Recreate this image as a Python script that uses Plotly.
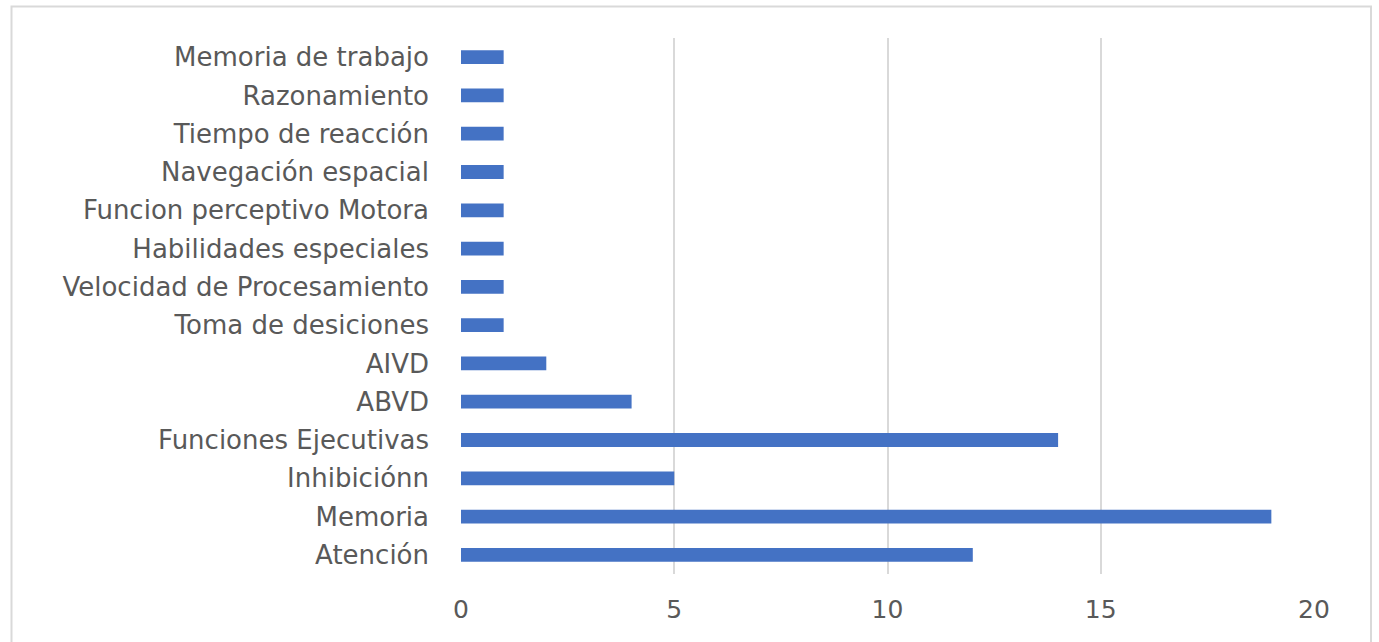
import plotly.graph_objects as go

# Categories listed bottom-to-top as they appear on the axis
categorias = [
    "Atención",
    "Memoria",
    "Inhibiciónn",
    "Funciones Ejecutivas",
    "ABVD",
    "AIVD",
    "Toma de desiciones",
    "Velocidad de Procesamiento",
    "Habilidades especiales",
    "Funcion perceptivo Motora",
    "Navegación espacial",
    "Tiempo de reacción",
    "Razonamiento",
    "Memoria de trabajo",
]
valores = [12, 19, 5, 14, 4, 2, 1, 1, 1, 1, 1, 1, 1, 1]
ticks_x = [0, 5, 10, 15, 20]

W, H = 1379, 642
L, R, T, B = 461, 65, 38, 68
FONT = "DejaVu Sans"
TXT = "#595959"
GRID = "#d9d9d9"

fig = go.Figure(
    go.Bar(
        x=valores,
        y=categorias,
        orientation="h",
        marker=dict(color="#4472C4", line=dict(width=0)),
        hoverinfo="x+y",
    )
)

pw = W - L - R
ph = H - T - B


def px_to_paper_x(p):
    return (p - L) / pw


def px_to_paper_y(p):
    return (H - B - p) / ph


fig.update_layout(
    width=W,
    height=H,
    margin=dict(l=L, r=R, t=T, b=B),
    paper_bgcolor="white",
    plot_bgcolor="white",
    bargap=0.64,
    showlegend=False,
    font=dict(family=FONT, size=26, color=TXT),
    xaxis=dict(
        range=[0, 20],
        tickvals=ticks_x,
        showgrid=True,
        gridcolor=GRID,
        gridwidth=2,
        zeroline=False,
        showline=False,
        ticks="",
        ticklabelstandoff=18,
        tickfont=dict(family=FONT, size=25, color=TXT),
        fixedrange=True,
    ),
    yaxis=dict(
        type="category",
        categoryorder="array",
        categoryarray=categorias,
        showgrid=False,
        zeroline=False,
        showline=False,
        ticks="",
        ticklabelstandoff=31,
        tickfont=dict(family=FONT, size=26, color=TXT),
        fixedrange=True,
    ),
    shapes=[
        dict(
            type="rect",
            xref="paper",
            yref="paper",
            x0=px_to_paper_x(11.5),
            x1=px_to_paper_x(1371),
            y0=px_to_paper_y(660),
            y1=px_to_paper_y(6.5),
            line=dict(color=GRID, width=2),
            fillcolor="rgba(0,0,0,0)",
            layer="below",
        )
    ],
)

fig.write_html("out.html")
